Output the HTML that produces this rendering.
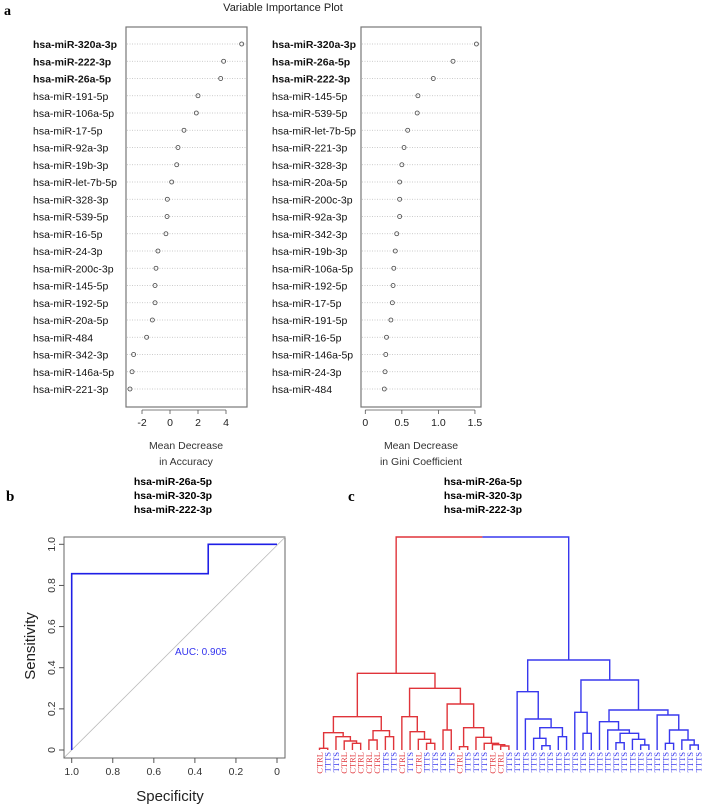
<!DOCTYPE html>
<html><head><meta charset="utf-8"><style>
body{margin:0;background:#fff;}
svg{display:block;font-family:"Liberation Sans",sans-serif;}
</style></head><body>
<svg id="fig" width="708" height="806" viewBox="0 0 708 806" xmlns="http://www.w3.org/2000/svg">
<text x="4" y="15" font-family="Liberation Serif" font-weight="bold" font-size="14">a</text>
<text x="283" y="11" text-anchor="middle" font-size="11" fill="#222">Variable Importance Plot</text>
<text x="6" y="501" font-family="Liberation Serif" font-weight="bold" font-size="15">b</text>
<text x="348" y="501" font-family="Liberation Serif" font-weight="bold" font-size="15">c</text>
<g font-weight="bold" font-size="10.5" text-anchor="middle">
<text x="173" y="485">hsa-miR-26a-5p</text><text x="173" y="499">hsa-miR-320-3p</text><text x="173" y="513">hsa-miR-222-3p</text></g>
<g font-weight="bold" font-size="10.5" text-anchor="middle">
<text x="483" y="485">hsa-miR-26a-5p</text><text x="483" y="499">hsa-miR-320-3p</text><text x="483" y="513">hsa-miR-222-3p</text></g>
<g id="accPanel"></g>
<g id="giniPanel"></g>
<g id="roc"></g>
<g id="dendro"></g>
</svg>
<script>
const NS="http://www.w3.org/2000/svg";
// ---- data ----
const accLabels=["hsa-miR-320a-3p","hsa-miR-222-3p","hsa-miR-26a-5p","hsa-miR-191-5p","hsa-miR-106a-5p","hsa-miR-17-5p","hsa-miR-92a-3p","hsa-miR-19b-3p","hsa-miR-let-7b-5p","hsa-miR-328-3p","hsa-miR-539-5p","hsa-miR-16-5p","hsa-miR-24-3p","hsa-miR-200c-3p","hsa-miR-145-5p","hsa-miR-192-5p","hsa-miR-20a-5p","hsa-miR-484","hsa-miR-342-3p","hsa-miR-146a-5p","hsa-miR-221-3p"];
const accValues=[5.12,3.83,3.62,2.0,1.88,1.0,0.57,0.48,0.12,-0.19,-0.21,-0.29,-0.86,-1.0,-1.07,-1.07,-1.26,-1.67,-2.6,-2.71,-2.86];
const accTicks=[-2,0,2,4];
const giniLabels=["hsa-miR-320a-3p","hsa-miR-26a-5p","hsa-miR-222-3p","hsa-miR-145-5p","hsa-miR-539-5p","hsa-miR-let-7b-5p","hsa-miR-221-3p","hsa-miR-328-3p","hsa-miR-20a-5p","hsa-miR-200c-3p","hsa-miR-92a-3p","hsa-miR-342-3p","hsa-miR-19b-3p","hsa-miR-106a-5p","hsa-miR-192-5p","hsa-miR-17-5p","hsa-miR-191-5p","hsa-miR-16-5p","hsa-miR-146a-5p","hsa-miR-24-3p","hsa-miR-484"];
const giniValues=[1.52,1.20,0.93,0.72,0.71,0.58,0.53,0.50,0.47,0.47,0.47,0.43,0.41,0.39,0.38,0.37,0.35,0.29,0.28,0.27,0.26];
const giniTicks=[0,0.5,1.0,1.5];
const giniTickLabels=["0","0.5","1.0","1.5"];
const rocSpec=[1,1,0.335,0.335,0];
const rocSens=[0,0.857,0.857,1,1];
const rocTicks=[0,0.2,0.4,0.6,0.8,1.0];
const rocTickLabels=["0","0.2","0.4","0.6","0.8","1.0"];
const leafLabels=["CTRL","TTTS","TTTS","CTRL","CTRL","CTRL","CTRL","CTRL","TTTS","TTTS","CTRL","TTTS","CTRL","TTTS","TTTS","TTTS","TTTS","CTRL","TTTS","TTTS","TTTS","CTRL","CTRL","TTTS","TTTS","TTTS","TTTS","TTTS","TTTS","TTTS","TTTS","TTTS","TTTS","TTTS","TTTS","TTTS","TTTS","TTTS","TTTS","TTTS","TTTS","TTTS","TTTS","TTTS","TTTS","TTTS","TTTS"];
const mergeLeft=[-1,-5,-4,-3,1,-7,-9,6,5,-14,-13,-12,-11,-16,-18,-23,-22,-21,-20,15,14,13,9,-28,-27,-30,25,-26,-25,-33,-32,-37,-40,-39,32,-36,-35,-43,-46,-45,38,-42,37,31,29,23];
const mergeRight=[-2,-6,2,3,4,-8,-10,7,8,-15,10,11,12,-17,-19,-24,16,17,18,19,20,21,22,-29,24,-31,26,27,28,-34,30,-38,-41,33,34,35,36,-44,-47,39,40,41,42,43,44,45];
const mergeHeight=[1.7,6.7,9,13.3,17.3,10,13.3,19.3,33.3,6.7,10.7,18.3,33.3,20,3.3,4,5.3,6.7,12.7,22.3,46,61.7,76.7,4.3,11.7,13.3,22.3,31,58.3,16.7,37.7,7.3,5,10.7,16.7,20,28.3,6.7,5,10,20,35,40,70,90,213];
const redClusterLast=23;

function el(parent,tag,attrs,name,inter){
  const e=document.createElementNS(NS,tag);
  for(const k in attrs)e.setAttribute(k,attrs[k]);
  
  
  parent.appendChild(e);return e;
}

function dotPanel(g,labels,values,ticks,tickLabels,box,x0,ppu,labelX){
  const xs=v=>x0+v*ppu;
  const rowY=i=>44+i*17.25;
  el(g,'rect',{x:box[0],y:27,width:box[1]-box[0],height:380,fill:'none',stroke:'#777','stroke-width':1.2},'plot-frame',false);
  labels.forEach((l,i)=>{
    el(g,'line',{x1:box[0]+1,x2:box[1]-1,y1:rowY(i),y2:rowY(i),stroke:'#bbb','stroke-width':0.7,'stroke-dasharray':'1,1.5'},'grid-line',false);
    const t=el(g,'text',{x:labelX,y:rowY(i)+4,'font-size':10.5,'font-weight':i<3?'bold':'normal',fill:'#111'},'row-label',false);
    t.textContent=l;
    el(g,'circle',{cx:xs(values[i]),cy:rowY(i),r:2,fill:'none',stroke:'#444','stroke-width':0.8},'point',false);
  });
  el(g,'line',{x1:xs(ticks[0]),x2:xs(ticks[ticks.length-1]),y1:410,y2:410,stroke:'#555','stroke-width':0.8},'x-axis',false);
  ticks.forEach((tv,i)=>{
    el(g,'line',{x1:xs(tv),x2:xs(tv),y1:410,y2:414,stroke:'#555','stroke-width':0.8},'x-tick',false);
    const t=el(g,'text',{x:xs(tv),y:426,'font-size':10.5,'text-anchor':'middle',fill:'#222'},'x-tick-label',false);
    t.textContent=tickLabels[i];
  });
}
const acc=document.getElementById('accPanel');
dotPanel(acc,accLabels,accValues,accTicks,accTicks.map(String),[126,247],170,14,33);
const gini=document.getElementById('giniPanel');
dotPanel(gini,giniLabels,giniValues,giniTicks,giniTickLabels,[361,481],365.3,73.1,272);
[[186,'Mean Decrease','in Accuracy'],[421,'Mean Decrease','in Gini Coefficient']].forEach(([cx,a,b],k)=>{
  const p=k?gini:acc;
  let t=el(p,'text',{x:cx,y:449,'font-size':10.5,'text-anchor':'middle',fill:'#333'},'x-axis-title',false);t.textContent=a;
  t=el(p,'text',{x:cx,y:465,'font-size':10.5,'text-anchor':'middle',fill:'#333'},'x-axis-title',false);t.textContent=b;
});

// ROC
const roc=document.getElementById('roc');
const rx=s=>277-205.3*s, ry=v=>750-205.7*v;
el(roc,'rect',{x:64,y:537,width:221,height:221,fill:'none',stroke:'#666','stroke-width':1},'plot-frame',false);
el(roc,'line',{x1:rx(1.035),y1:ry(-0.035),x2:rx(-0.04),y2:ry(1.035),stroke:'#bbb','stroke-width':0.8},'diagonal-line',false);
el(roc,'polyline',{points:rocSpec.map((s,i)=>rx(s)+','+ry(rocSens[i])).join(' '),fill:'none',stroke:'#1f1fe6','stroke-width':1.6},'roc-curve',false);
rocTicks.forEach((v,i)=>{
  el(roc,'line',{x1:64,x2:59,y1:ry(v),y2:ry(v),stroke:'#555'},'y-tick',false);
  let t=el(roc,'text',{x:0,y:0,'font-size':10.5,'text-anchor':'middle',fill:'#333',transform:`translate(55,${ry(v)}) rotate(-90)`},'y-tick-label',false);t.textContent=rocTickLabels[i];
  el(roc,'line',{x1:rx(v),x2:rx(v),y1:758,y2:763,stroke:'#555'},'x-tick',false);
  t=el(roc,'text',{x:rx(v),y:775,'font-size':10.5,'text-anchor':'middle',fill:'#333'},'x-tick-label',false);t.textContent=rocTickLabels[i];
});
let tt=el(roc,'text',{x:170,y:801,'font-size':15,'text-anchor':'middle',fill:'#222'},'x-axis-title',false);tt.textContent='Specificity';
tt=el(roc,'text',{x:0,y:0,'font-size':15,'text-anchor':'middle',fill:'#222',transform:'translate(35,646) rotate(-90)'},'y-axis-title',false);tt.textContent='Sensitivity';
tt=el(roc,'text',{x:175,y:655,'font-size':10,fill:'#3333ee'},'auc-label',false);tt.textContent='AUC: 0.905';

// Dendrogram
const dg=document.getElementById('dendro');
const leafX=i=>319.5+8.235*i, hy=h=>750-h;
const RED='#e0343a', BLUE='#3838ee';
const nodeX=[],nodeH=[];
function pos(id){return id<0?[leafX(-id-1),0]:[nodeX[id-1],nodeH[id-1]];}
mergeLeft.forEach((a,k)=>{
  const b=mergeRight[k],h=mergeHeight[k];
  const [xa,ha]=pos(a),[xb,hb]=pos(b);
  nodeX[k]=(xa+xb)/2;nodeH[k]=h;
  const root=k===mergeLeft.length-1;
  const col=k<redClusterLast?RED:BLUE;
  if(root){
    el(dg,'path',{d:`M${xa},${hy(ha)}V${hy(h)}H${nodeX[k]}`,fill:'none',stroke:RED,'stroke-width':1.4},'branch',false);
    el(dg,'path',{d:`M${nodeX[k]},${hy(h)}H${xb}V${hy(hb)}`,fill:'none',stroke:BLUE,'stroke-width':1.4},'branch',false);
  }else{
    el(dg,'path',{d:`M${xa},${hy(ha)}V${hy(h)}H${xb}V${hy(hb)}`,fill:'none',stroke:col,'stroke-width':1.4},'branch',false);
  }
});
leafLabels.forEach((l,i)=>{
  const t=el(dg,'text',{x:0,y:0,'font-family':'Liberation Serif','font-size':8.5,'text-anchor':'end',fill:l==='CTRL'?RED:BLUE,transform:`translate(${leafX(i)+3},752) rotate(-90)`},'leaf-label',false);
  t.textContent=l;
});
</script>
</body></html>
